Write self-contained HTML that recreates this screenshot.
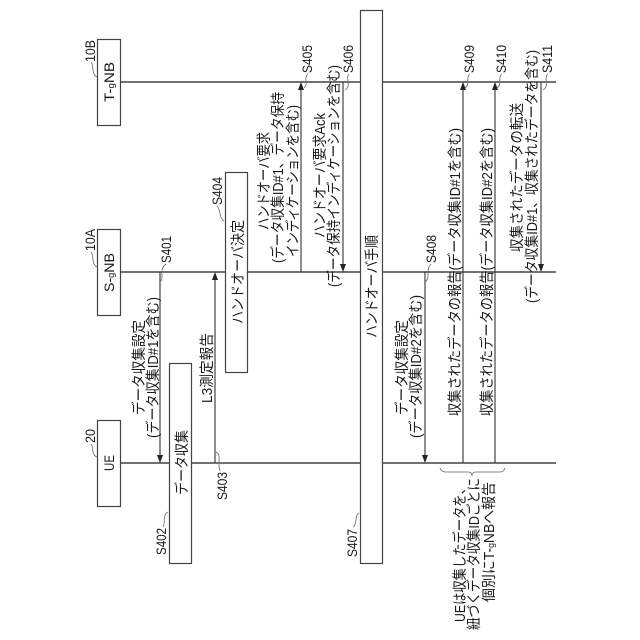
<!DOCTYPE html>
<html><head><meta charset="utf-8"><style>
html,body{margin:0;padding:0;background:#fff;width:640px;height:640px;overflow:hidden}
svg{display:block}
text{font-family:"Liberation Sans","Noto Sans CJK JP",sans-serif;font-size:14.5px;fill:#1a1a1a}
text.s{font-size:14px}
.l{stroke:#444;stroke-width:1.4;fill:none}
.t{stroke:#333;stroke-width:1.1;fill:none}
.c{stroke:#666;stroke-width:.8;fill:none}
.b{stroke:#444;stroke-width:1.2;fill:#fff}
.a{fill:#222;stroke:none}
</style></head><body>
<svg width="640" height="640" viewBox="0 0 640 640" xmlns="http://www.w3.org/2000/svg">
<path class="l" d="M120 82H556M120 272H556M120 463H556"/>
<rect class="b" x="97.5" y="39.5" width="23" height="86"/>
<rect class="b" x="97.5" y="229.5" width="23" height="86"/>
<rect class="b" x="97.5" y="420.5" width="23" height="86"/>
<path class="t" d="M160 272V456M215 463V279M301 272V89M343 82V265M425 272V456M463 463V89M495 463V89M541 82V265"/>
<path class="a" d="M160 463l-3-8h6zM215 272l-3 8h6zM301 82l-3 8h6zM343 272l-3-8h6zM425 463l-3-8h6zM463 82l-3 8h6zM495 82l-3 8h6zM541 272l-3-8h6z"/>
<rect class="b" x="169.500" y="363.500" width="22" height="200"/>
<rect class="b" x="225.500" y="172.500" width="22" height="200"/>
<rect class="b" x="360.500" y="10.500" width="22" height="553"/>
<path class="c" d="M97 77C91 74 94 64 91 62M97 267C91 264 94 254 91 252M97 457C91 455 94 447 91 444"/>
<path class="c" d="M160 282C165 278 158 270 166 264M168 512C162 515 166 523 163 527M216 452C222 455 217 462 220 471M224 221C219 218 221 210 217 206M304 88C309 84 303 78 308 74M345 90C352 86 345 78 349 74M425 282C431 278 425 270 431 264M359 513C354 516 358 523 353 527M465 88C471 84 465 78 470 74M497 88C503 84 497 78 502 74M543 90C550 86 543 78 548 74"/>
<path class="c" d="M440 468C441 471 442 471 445 472H468C471 472 472 474 472 476C472 474 473 472 476 472H500C503 472 504 471 505 468"/>
<g>
<text class="s" transform="translate(114,102) rotate(-90)" textLength="40" lengthAdjust="spacingAndGlyphs">T-<tspan font-size="9">g</tspan>NB</text>
<text class="s" transform="translate(114,292) rotate(-90)" textLength="39" lengthAdjust="spacingAndGlyphs">S-<tspan font-size="9">g</tspan>NB</text>
<text class="s" transform="translate(114,471) rotate(-90)" textLength="16" lengthAdjust="spacingAndGlyphs">UE</text>
<text class="s" transform="translate(95,62) rotate(-90)" textLength="22" lengthAdjust="spacingAndGlyphs">10B</text>
<text class="s" transform="translate(95,251) rotate(-90)" textLength="22" lengthAdjust="spacingAndGlyphs">10A</text>
<text class="s" transform="translate(95,443) rotate(-90)" textLength="14" lengthAdjust="spacingAndGlyphs">20</text>
<text class="s" transform="translate(171,263) rotate(-90)" textLength="27" lengthAdjust="spacingAndGlyphs">S401</text>
<text class="s" transform="translate(166,555) rotate(-90)" textLength="27" lengthAdjust="spacingAndGlyphs">S402</text>
<text class="s" transform="translate(227,500) rotate(-90)" textLength="28" lengthAdjust="spacingAndGlyphs">S403</text>
<text class="s" transform="translate(222,205) rotate(-90)" textLength="28" lengthAdjust="spacingAndGlyphs">S404</text>
<text class="s" transform="translate(312,73) rotate(-90)" textLength="28" lengthAdjust="spacingAndGlyphs">S405</text>
<text class="s" transform="translate(353,73) rotate(-90)" textLength="28" lengthAdjust="spacingAndGlyphs">S406</text>
<text class="s" transform="translate(357,557) rotate(-90)" textLength="28" lengthAdjust="spacingAndGlyphs">S407</text>
<text class="s" transform="translate(436,263) rotate(-90)" textLength="28" lengthAdjust="spacingAndGlyphs">S408</text>
<text class="s" transform="translate(474,73) rotate(-90)" textLength="28" lengthAdjust="spacingAndGlyphs">S409</text>
<text class="s" transform="translate(506,73) rotate(-90)" textLength="28" lengthAdjust="spacingAndGlyphs">S410</text>
<text class="s" transform="translate(552,73) rotate(-90)" textLength="28" lengthAdjust="spacingAndGlyphs">S411</text>
</g>
<g transform="translate(1,0)">
<text transform="translate(143,415) rotate(-90)" textLength="95" lengthAdjust="spacingAndGlyphs">データ収集設定</text>
<text transform="translate(157,438) rotate(-90)" textLength="141" lengthAdjust="spacingAndGlyphs">(データ収集ID#1を含む)</text>
<text transform="translate(186,495) rotate(-90)" textLength="65" lengthAdjust="spacingAndGlyphs">データ収集</text>
<text transform="translate(211,403) rotate(-90)" textLength="70" lengthAdjust="spacingAndGlyphs">L3測定報告</text>
<text transform="translate(242,324) rotate(-90)" textLength="104" lengthAdjust="spacingAndGlyphs">ハンドオーバ決定</text>
<text transform="translate(268,230) rotate(-90)" textLength="98" lengthAdjust="spacingAndGlyphs">ハンドオーバ要求</text>
<text transform="translate(282,263) rotate(-90)" textLength="171" lengthAdjust="spacingAndGlyphs">(データ収集ID#1、データ保持</text>
<text transform="translate(297,257) rotate(-90)" textLength="152" lengthAdjust="spacingAndGlyphs">インディケーションを含む)</text>
<text transform="translate(324,238) rotate(-90)" textLength="125" lengthAdjust="spacingAndGlyphs">ハンドオーバ要求Ack</text>
<text transform="translate(338,287) rotate(-90)" textLength="222" lengthAdjust="spacingAndGlyphs">(データ保持インディケーションを含む)</text>
<text transform="translate(376,338) rotate(-90)" textLength="103" lengthAdjust="spacingAndGlyphs">ハンドオーバ手順</text>
<text transform="translate(406,415) rotate(-90)" textLength="95" lengthAdjust="spacingAndGlyphs">データ収集設定</text>
<text transform="translate(420,438) rotate(-90)" textLength="143" lengthAdjust="spacingAndGlyphs">(データ収集ID#2を含む)</text>
<text transform="translate(459,416) rotate(-90)" textLength="288" lengthAdjust="spacingAndGlyphs">収集されたデータの報告(データ収集ID#1を含む)</text>
<text transform="translate(491,416) rotate(-90)" textLength="288" lengthAdjust="spacingAndGlyphs">収集されたデータの報告(データ収集ID#2を含む)</text>
<text transform="translate(521,252) rotate(-90)" textLength="149" lengthAdjust="spacingAndGlyphs">収集されたデータの転送</text>
<text transform="translate(536,303) rotate(-90)" textLength="253" lengthAdjust="spacingAndGlyphs">(データ収集ID#1、収集されたデータを含む)</text>
<text transform="translate(464,622) rotate(-90)" textLength="140" lengthAdjust="spacingAndGlyphs">UEは収集したデータを、</text>
<text transform="translate(478,630) rotate(-90)" textLength="152" lengthAdjust="spacingAndGlyphs">紐づくデータ収集IDごとに</text>
<text transform="translate(493,602) rotate(-90)" textLength="120" lengthAdjust="spacingAndGlyphs">個別にT-<tspan font-size="9">g</tspan>NBへ報告</text>
</g>
</svg>
</body></html>
